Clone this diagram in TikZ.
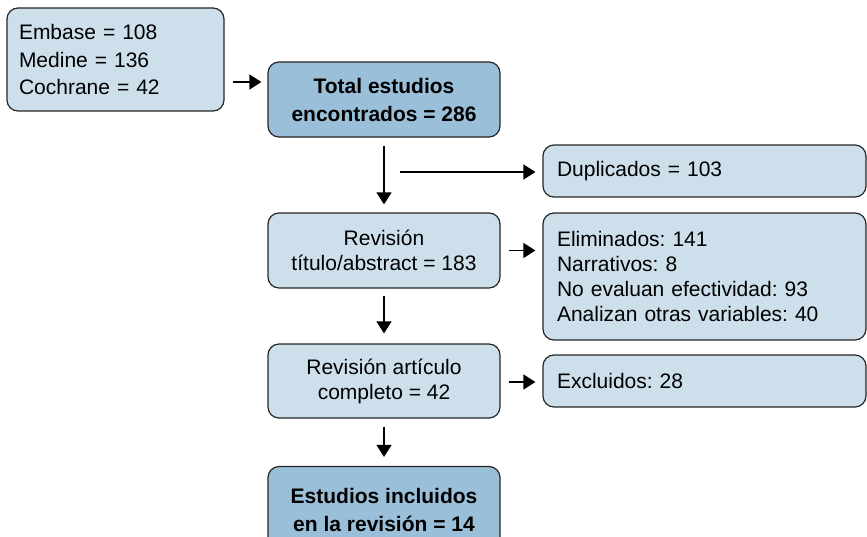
\documentclass[tikz,border=0pt]{standalone}
\usepackage{fontspec}
\setmainfont{Liberation Sans}
\usetikzlibrary{calc,arrows.meta}
\definecolor{boxlight}{RGB}{205,223,235}
\definecolor{boxdark}{RGB}{154,191,216}
\frenchspacing
\begin{document}
\begin{tikzpicture}[x=1pt,y=-1pt,
        caja/.style={draw=black!85,line width=1.2pt,rounded corners=11pt,fill=boxlight,inner sep=0pt,font=\fontsize{21}{25}\selectfont},
        cajaizq/.style={caja,inner xsep=14pt,align=left},
        cajacen/.style={caja,minimum width=232pt,minimum height=75pt,align=center},
        cajaosc/.style={cajacen,fill=boxdark,font=\fontsize{21}{28}\selectfont\bfseries},
        flecha/.style={-{Triangle[length=12pt,width=15pt]},line width=1.3pt}]
    \useasboundingbox (0,0) rectangle (867,536);
    \node [cajaizq,inner xsep=12pt,text width=193pt,minimum height=103pt,font=\fontsize{21}{27.5}\selectfont] (fuentes) at (115.5,59.5) {Embase = 108\\Medine = 136\\Cochrane = 42};
    \node [cajaosc] (total) at (384,99.5) {Total estudios\\encontrados = 286};
    \node [cajacen] (titulo) at (384,250.5) {Revisión\\título/abstract = 183};
    \node [cajacen,minimum height=74pt] (articulo) at (384,381) {Revisión artículo\\completo = 42};
    \node [cajaosc,minimum height=86pt] (incluidos) at (384,509.5) {Estudios incluidos\\en la revisión = 14};
    \node [cajaizq,text width=295pt,minimum height=52pt] (duplicados) at (704.5,171) {Duplicados = 103};
    \node [cajaizq,text width=295pt,minimum height=127pt] (eliminados) at (704.5,276.5) {Eliminados: 141\\Narrativos: 8\\No evaluan efectividad: 93\\Analizan otras variables: 40};
    \node [cajaizq,text width=295pt,minimum height=52pt] (excluidos) at (704.5,381) {Excluidos: 28};
    \coordinate (desvio) at (400,172);
    \draw [flecha] ($(fuentes.east)+(8,22.5)$) -- ($(total.west)+(-6,-17.5)$);
    \draw [flecha] ($(total.south)+(0,8)$) -- ($(titulo.north)+(0,-8)$);
    \draw [flecha] (desvio) -- ($(duplicados.west)+(-7,1)$);
    \draw [flecha] ($(titulo.east)+(8,0)$) -- ($(titulo.east -| eliminados.west)+(-7,0)$);
    \draw [flecha] ($(titulo.south)+(0,7)$) -- ($(articulo.north)+(0,-10)$);
    \draw [flecha] ($(articulo.east)+(8,1)$) -- ($(excluidos.west)+(-7,1)$);
    \draw [flecha] ($(articulo.south)+(0,8)$) -- ($(incluidos.north)+(0,-9)$);
\end{tikzpicture}
\end{document}
